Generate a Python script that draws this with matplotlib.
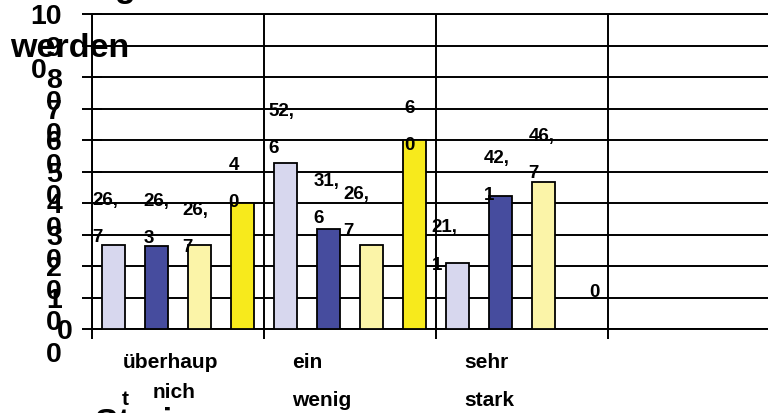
import matplotlib
matplotlib.use("Agg")
import matplotlib.pyplot as plt
import numpy as np

plt.rcParams['font.family'] = ['Liberation Sans', 'DejaVu Sans']
plt.rcParams['font.weight'] = 'bold'

# data
categories = ["überhaupt nicht", "ein wenig", "sehr stark", ""]
series1 = [26.7, 52.6, 21.1]   # lavender
series2 = [26.3, 31.6, 42.1]   # dark blue
series3 = [26.7, 26.7, 46.7]   # light yellow
series4 = [40, 60, 0]          # yellow
yticks = list(range(0, 101, 10))

colors = ['#D7D7EE', '#464C9E', '#FBF4A8', '#F7EA1C']

# label nudges in pixels (dx, gap above bar top) - the original is messy
nudge_dx = [[-8, -4, -13], [0, -2, -4], [-4, -15, -2], [-9, -5, 8]]
nudge_gap = [[4, 11, -6], [4, 7, -3], [-6, 10, 5], [-3, -9, 33]]

def wrap_label(v):
    s = ('%g' % v).replace('.', ',')
    if ',' in s:
        a, b = s.split(',')
        return a + ',\n' + b
    if len(s) > 1:
        return s[:-1] + '\n' + s[-1]
    return s

fig = plt.figure(figsize=(7.68, 4.14), dpi=100)
ax = fig.add_axes([92/768, 1-330/414, 688/768, 315/414])

x = np.arange(len(series1))
bw = 0.128
step = 0.25
allser = [series1, series2, series3, series4]
for k, ser in enumerate(allser):
    xs = x + (k - 1.5) * step
    ax.bar(xs, ser, width=bw, color=colors[k], edgecolor='black', linewidth=1.3, zorder=3)
    for j, v in enumerate(ser):
        ax.annotate(wrap_label(v), xy=(xs[j], v), xytext=(nudge_dx[k][j], nudge_gap[k][j] - 4),
                    textcoords='offset pixels', ha='center', va='bottom',
                    multialignment='left', linespacing=2.55, fontsize=13.5,
                    fontweight='bold', zorder=5, annotation_clip=False)

ax.set_xlim(-0.5, 3.5)
ax.set_ylim(0, 100)
ax.set_yticks(yticks)
ax.set_yticklabels([])
ax.set_xticks(np.arange(len(categories) + 1) - 0.5)
ax.set_xticklabels([])
ax.tick_params(axis='y', direction='inout', length=15, width=1.4, color='black')
ax.tick_params(axis='x', direction='out', length=7, width=1.4, color='black')
ax.grid(True, color='black', linewidth=1.4, zorder=0)
ax.set_axisbelow(True)
for sp in ax.spines.values():
    sp.set_linewidth(1.4)
    sp.set_color('black')

# y tick labels, wrapped like the original
for v in yticks:
    if v == 0:
        ax.annotate('0', xy=(0, v), xycoords=('axes fraction', 'data'), xytext=(-19, -2),
                    textcoords='offset pixels', ha='right', va='center', fontsize=20.5,
                    fontweight='bold', annotation_clip=False)
    else:
        s = str(v)
        ax.annotate(s[:-1] + '\n' + s[-1], xy=(0, v), xycoords=('axes fraction', 'data'),
                    xytext=(-30, 10.5), textcoords='offset pixels', ha='right', va='top',
                    multialignment='left', linespacing=2.4, fontsize=20.5,
                    fontweight='bold', annotation_clip=False)

# category labels (broken wrapping as in the original)
cat_lines = [
    [("überhaup", 31, -38), ("t", 30, -75), ("nich", 61, -68)],
    [("ein", 28, -38), ("wenig", 28, -76)],
    [("sehr", 28, -38), ("stark", 28, -76)],
]
for i, lines in enumerate(cat_lines):
    for txt, dx, dy in lines:
        ax.annotate(txt, xy=(i - 0.5, 0), xytext=(dx, dy), textcoords='offset pixels',
                    ha='left', va='baseline', fontsize=15, fontweight='bold',
                    annotation_clip=False)

# cut-off titles
fig.text(10/768, 1-57/414, 'werden', fontsize=24.5, fontweight='bold', va='baseline')
fig.text(115/768, 1+3/414, 'g', fontsize=24.5, fontweight='bold', va='baseline')
fig.text(95/768, 1-433/414, 'Strei', fontsize=25, fontweight='bold', va='baseline')

fig.savefig('out.png', dpi=100)
